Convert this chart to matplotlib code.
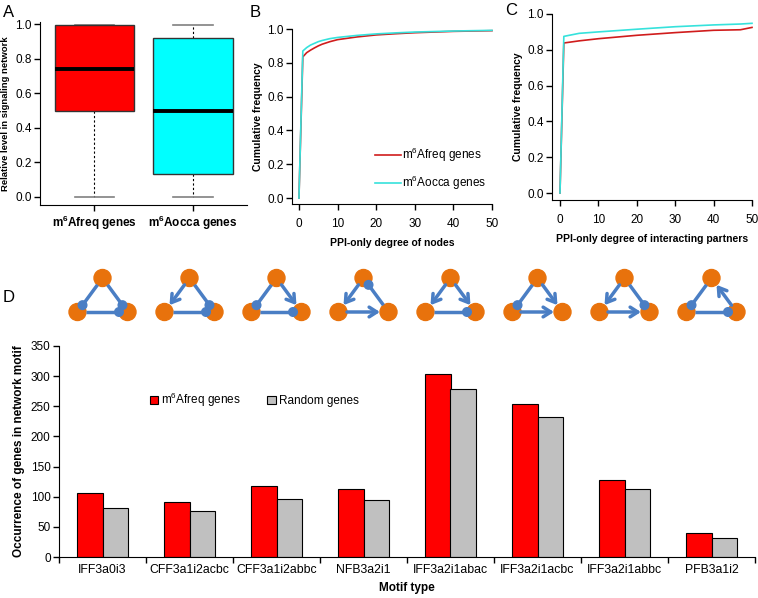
import matplotlib.pyplot as plt
import numpy as np
from matplotlib.patches import Circle, FancyArrowPatch, Patch

plt.rcParams['font.family'] = ['Liberation Sans', 'DejaVu Sans']
plt.rcParams['mathtext.fontset'] = 'custom'
plt.rcParams['mathtext.rm'] = 'Liberation Sans'
plt.rcParams['mathtext.bf'] = 'Liberation Sans:bold'
plt.rcParams['mathtext.it'] = 'Liberation Sans:italic'

# ---- data ----
# A: box plot summary (relative level in signaling network)
box_labels = [r'm$\mathbf{^6}$Afreq genes', r'm$\mathbf{^6}$Aocca genes']
box_q1 = [0.495, 0.133]
box_med = [0.743, 0.495]
box_q3 = [0.995, 0.923]
box_lo = [0.0, 0.0]
box_hi = [0.995, 0.995]
box_colors = ['#ff0000', '#00ffff']

# B: cumulative frequency, PPI-only degree of nodes
b_deg = [0, 1, 2, 3, 4, 5, 6, 8, 10, 15, 20, 25, 30, 40, 50]
b_freq = [0, 0.835, 0.86, 0.875, 0.888, 0.90, 0.91, 0.925, 0.937, 0.953, 0.965, 0.972, 0.978, 0.986, 0.99]
b_occa = [0, 0.87, 0.89, 0.905, 0.915, 0.925, 0.932, 0.943, 0.95, 0.962, 0.971, 0.977, 0.982, 0.988, 0.992]

# C: cumulative frequency, degree of interacting partners
c_deg = [0, 1, 5, 10, 20, 30, 40, 47, 50]
c_freq = [0, 0.838, 0.85, 0.862, 0.881, 0.896, 0.909, 0.912, 0.925]
c_occa = [0, 0.875, 0.892, 0.90, 0.915, 0.929, 0.939, 0.944, 0.948]

line_labels = [r'm$^6$Afreq genes', r'm$^6$Aocca genes']
line_colors = ['#d01c1c', '#36e2dc']

# D: motif occurrence
motif_names = ['IFF3a0i3', 'CFF3a1i2acbc', 'CFF3a1i2abbc', 'NFB3a2i1',
               'IFF3a2i1abac', 'IFF3a2i1acbc', 'IFF3a2i1abbc', 'PFB3a1i2']
freq_counts = [106, 91, 117, 113, 303, 254, 127, 40]
random_counts = [81, 76, 96, 95, 278, 232, 113, 32]

# motif edges: (source, target, 'a' activation / 'i' inhibition)
motif_edges = [
    [('T', 'L', 'i'), ('T', 'R', 'i'), ('L', 'R', 'i')],
    [('T', 'L', 'a'), ('T', 'R', 'i'), ('L', 'R', 'i')],
    [('T', 'L', 'i'), ('T', 'R', 'a'), ('L', 'R', 'i')],
    [('T', 'L', 'a'), ('L', 'R', 'a'), ('R', 'T', 'i')],
    [('T', 'L', 'a'), ('T', 'R', 'a'), ('L', 'R', 'i')],
    [('T', 'L', 'i'), ('T', 'R', 'a'), ('L', 'R', 'a')],
    [('T', 'L', 'a'), ('L', 'R', 'a'), ('T', 'R', 'i')],
    [('T', 'L', 'i'), ('R', 'T', 'a'), ('L', 'R', 'i')],
]

W, H = 758, 598
fig = plt.figure(figsize=(W / 100, H / 100), dpi=100)


def px_axes(left, top, right, bottom):
    return fig.add_axes([left / W, 1 - bottom / H, (right - left) / W, (bottom - top) / H])


def style(ax):
    for s in ['top', 'right']:
        ax.spines[s].set_visible(False)
    ax.tick_params(direction='out', length=4, width=1, labelsize=8.5, pad=2)


# ---- A ----
axA = px_axes(40, 22, 247, 205)
stats = [dict(med=m, q1=a, q3=b, whislo=lo, whishi=hi, fliers=[])
         for m, a, b, lo, hi in zip(box_med, box_q1, box_q3, box_lo, box_hi)]
bp = axA.bxp(stats, positions=[1, 2], widths=0.81, patch_artist=True, showfliers=False,
             boxprops=dict(edgecolor='#333333', lw=1, zorder=3),
             medianprops=dict(color='black', lw=2.8, zorder=4),
             whiskerprops=dict(color='black', ls=(0, (2, 2)), lw=0.8, zorder=2),
             capprops=dict(color='#808080', lw=1.2, zorder=2), capwidths=0.4)
for patch, c in zip(bp['boxes'], box_colors):
    patch.set_facecolor(c)
axA.set_xlim(0.447, 2.548)
axA.set_ylim(-0.047, 1.013)
axA.set_yticks(np.arange(0, 1.01, 0.2))
axA.set_yticklabels(['%.1f' % v for v in np.arange(0, 1.01, 0.2)])
axA.set_xticks([1, 2])
axA.set_xticklabels(box_labels, fontweight='bold')
style(axA)
axA.set_ylabel('Relative level in signaling network', fontweight='bold', fontsize=6.8, labelpad=4)

# ---- B ----
axB = px_axes(292, 29, 492, 204)
axB.plot(b_deg, b_freq, color=line_colors[0], lw=1.2, label=line_labels[0], clip_on=False)
axB.plot(b_deg, b_occa, color=line_colors[1], lw=1.2, label=line_labels[1], clip_on=False)
axB.set_xlim(-1.8, 50)
axB.set_ylim(-0.035, 1.0)
axB.set_xticks(range(0, 51, 10))
axB.set_yticks(np.arange(0, 1.01, 0.2))
axB.set_yticklabels(['%.1f' % v for v in np.arange(0, 1.01, 0.2)])
style(axB)
axB.tick_params(axis='x', pad=6)
axB.set_xlabel('PPI-only degree of nodes', fontweight='bold', fontsize=7.5, labelpad=6)
axB.set_ylabel('Cumulative frequency', fontweight='bold', fontsize=7.5, labelpad=3)
axB.legend(loc='center left', bbox_to_anchor=(0.36, 0.2), frameon=False, fontsize=8.5,
           handlelength=2.2, handletextpad=0.1, labelspacing=0.8)

# ---- C ----
axC = px_axes(552, 14, 752, 200)
axC.plot(c_deg, c_freq, color=line_colors[0], lw=1.2, clip_on=False)
axC.plot(c_deg, c_occa, color=line_colors[1], lw=1.2, clip_on=False)
axC.set_xlim(-2.08, 50)
axC.set_ylim(-0.039, 1.0)
axC.set_xticks(range(0, 51, 10))
axC.set_yticks(np.arange(0, 1.01, 0.2))
axC.set_yticklabels(['%.1f' % v for v in np.arange(0, 1.01, 0.2)])
style(axC)
axC.tick_params(axis='x', pad=6)
axC.set_xlabel('PPI-only degree of interacting partners', fontweight='bold', fontsize=7.5, labelpad=6)
axC.set_ylabel('Cumulative frequency', fontweight='bold', fontsize=7.5, labelpad=3)

# ---- D ----
axD = px_axes(59, 346, 755, 557)
x = np.arange(len(motif_names))
bw = 0.29
axD.bar(x - bw / 2, freq_counts, bw, color='#ff0000', edgecolor='black', lw=0.8)
axD.bar(x + bw / 2, random_counts, bw, color='#c0c0c0', edgecolor='black', lw=0.8)
axD.set_xlim(-0.5, len(motif_names) - 0.5)
axD.set_ylim(0, 350)
axD.set_yticks(range(0, 351, 50))
axD.set_xticks(np.arange(-0.5, len(motif_names)), labels=[])
axD.set_xticks(x, labels=motif_names, minor=True)
style(axD)
axD.tick_params(axis='y', labelsize=8.5)
axD.tick_params(axis='x', which='minor', length=0, pad=5, labelsize=8.8)
axD.set_xlabel('Motif type', fontweight='bold', fontsize=8.5, labelpad=4)
axD.set_ylabel('Occurrence of genes in network motif', fontweight='bold', fontsize=8.5, labelpad=4)
handles = [Patch(facecolor='#ff0000', edgecolor='black', lw=0.8),
           Patch(facecolor='#c0c0c0', edgecolor='black', lw=0.8)]
axD.legend(handles, [r'm$^6$Afreq genes', 'Random genes'], loc='center left',
           bbox_to_anchor=(0.115, 0.744), ncol=2, frameon=False, fontsize=8.5,
           handlelength=0.7, handleheight=0.7, handletextpad=0.3, columnspacing=2.2)

# ---- motif icons ----
axM = fig.add_axes([0, 0, 1, 1])
axM.set_xlim(0, W)
axM.set_ylim(0, H)
axM.axis('off')
node_r = 8.5
edge_col = '#4a7ec4'
node_col = '#e8720c'
for i, edges in enumerate(motif_edges):
    cx = axD.transData.transform((i, 0))[0]
    nodes = {'T': np.array([cx, H - 278]), 'L': np.array([cx - 25, H - 312]),
             'R': np.array([cx + 25, H - 312])}
    for p in nodes.values():
        axM.add_patch(Circle(p, node_r, color=node_col, zorder=2))
    for s, t, kind in edges:
        a, b = nodes[s], nodes[t]
        u = (b - a) / np.linalg.norm(b - a)
        start = a + u * node_r
        end = b - u * node_r
        if kind == 'a':
            axM.add_patch(FancyArrowPatch(start, end, arrowstyle='->,head_length=5.5,head_width=3.5',
                                          mutation_scale=1, lw=2.5, color=edge_col,
                                          shrinkA=0, shrinkB=0, zorder=3))
        else:
            axM.plot([start[0], end[0]], [start[1], end[1]], color=edge_col, lw=2.5,
                     solid_capstyle='butt', zorder=3)
            axM.add_patch(Circle(end, 4.3, color=edge_col, zorder=4))

# panel letters
for letter, (lx, ly) in zip('ABCD', [(3, 17), (250, 17), (505, 15), (3, 302)]):
    fig.text(lx / W, 1 - ly / H, letter, fontsize=12)

fig.savefig('out.png', dpi=100)
